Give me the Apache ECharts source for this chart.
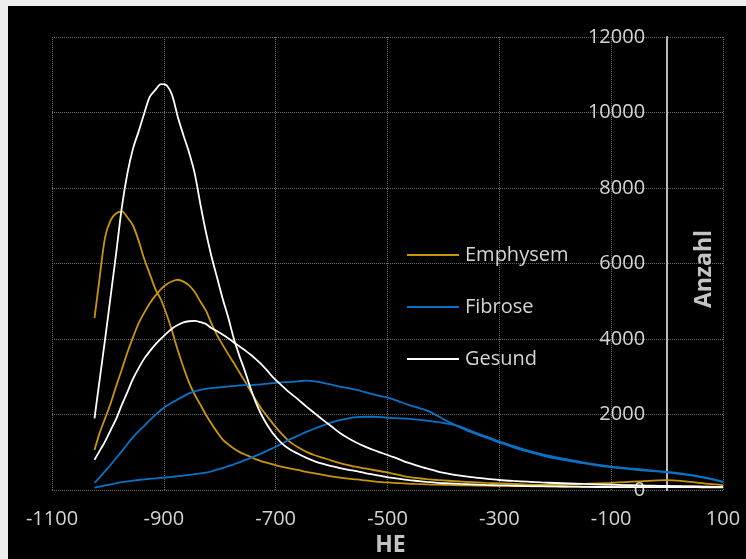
<!DOCTYPE html>
<html>
<head>
<meta charset="utf-8">
<script src="https://cdn.jsdelivr.net/npm/echarts@6/dist/echarts.min.js"></script>
<style>
  html, body { margin: 0; padding: 0; background: #eeeeee; }
  #chart { position: absolute; left: 8px; top: 6px; width: 738px; height: 553px; background: #000000; }
</style>
</head>
<body>
<div id="chart"></div>
<script>
// Hounsfield units (HE) sampled along the histogram
const hu = [
  -1024, -1015, -1005, -995, -985, -975, -965, -955, -945, -935,
  -925, -915, -905, -895, -885, -875, -865, -855, -845, -835,
  -825, -815, -805, -795, -785, -775, -765, -755, -745, -735,
  -725, -715, -705, -690, -675, -660, -645, -630, -615, -600,
  -585, -570, -555, -540, -525, -510, -495, -480, -465, -450,
  -430, -410, -390, -370, -350, -325, -300, -275, -250, -225,
  -200, -175, -150, -125, -100, -75, -50, -25, 0, 25,
  50, 75, 100
];

// Voxel counts (Anzahl) per HU
const emphysemA = [
  4550, 5600, 6700, 7150, 7330, 7380, 7220, 7000, 6600, 6120,
  5720, 5320, 5040, 4650, 4200, 3700, 3250, 2850, 2530, 2270,
  2000, 1760, 1540, 1340, 1210, 1100, 1010, 940, 880, 810,
  760, 720, 680, 620, 575, 530, 480, 440, 400, 360,
  325, 300, 280, 255, 230, 210, 195, 180, 170, 160,
  150, 140, 135, 125, 120, 115, 110, 105, 100, 95,
  95, 90, 90, 90, 90, 95, 95, 100, 100, 100,
  95, 85, 80
];
const emphysemB = [
  1060, 1500, 1900, 2300, 2760, 3200, 3650, 4050, 4420, 4700,
  4950, 5150, 5320, 5450, 5530, 5570, 5520, 5420, 5250, 5000,
  4760, 4420, 4110, 3850, 3600, 3370, 3120, 2880, 2620, 2370,
  2140, 1950, 1760, 1500, 1280, 1130, 1010, 920, 850, 780,
  715, 660, 610, 570, 530, 490, 450, 400, 345, 320,
  290, 265, 245, 225, 210, 190, 175, 160, 145, 135,
  140, 150, 160, 175, 190, 210, 230, 250, 260, 240,
  200, 160, 130
];
const fibroseA = [
  190, 330, 500, 670, 850, 1030, 1220, 1400, 1560, 1700,
  1850, 1990, 2120, 2230, 2320, 2400, 2480, 2560, 2610, 2650,
  2680, 2700, 2710, 2730, 2740, 2760, 2770, 2780, 2780, 2790,
  2800, 2820, 2830, 2850, 2860, 2880, 2900, 2880, 2840, 2790,
  2740, 2700, 2650, 2590, 2530, 2480, 2430, 2350, 2270, 2200,
  2110, 1960, 1800, 1660, 1530, 1390, 1260, 1130, 1020, 920,
  840, 770, 710, 650, 600, 570, 530, 500, 470, 420,
  370, 300, 210
];
const fibroseB = [
  60, 90, 120, 150, 180, 210, 230, 250, 265, 280,
  295, 310, 320, 335, 350, 365, 380, 400, 420, 440,
  460, 490, 540, 580, 630, 680, 730, 790, 850, 910,
  970, 1040, 1110, 1220, 1340, 1440, 1540, 1630, 1710, 1790,
  1850, 1900, 1930, 1940, 1940, 1930, 1910, 1900, 1890, 1870,
  1840, 1800, 1750, 1680, 1560, 1420, 1290, 1160, 1050, 950,
  870, 800, 730, 670, 620, 580, 550, 510, 480, 440,
  380, 310, 220
];
const gesundA = [
  1900, 2900, 4000, 5150, 6300, 7500, 8400, 9050, 9500, 9980,
  10420, 10600, 10750, 10720, 10450, 9880, 9400, 8950, 8400, 7600,
  6850, 6200, 5640, 5080, 4580, 4020, 3560, 3150, 2700, 2300,
  1980, 1720, 1500, 1250, 1080, 960, 850, 760, 690, 630,
  580, 535, 500, 450, 410, 370, 330, 300, 270, 245,
  215, 190, 175, 160, 150, 135, 125, 115, 105, 100,
  95, 90, 85, 80, 80, 75, 75, 75, 75, 75,
  75, 70, 70
];
const gesundB = [
  800, 1030, 1290, 1590, 1890, 2260, 2600, 2950, 3230, 3480,
  3680, 3860, 4010, 4150, 4280, 4370, 4440, 4470, 4480, 4450,
  4400, 4290, 4210, 4120, 4020, 3910, 3810, 3700, 3590, 3460,
  3320, 3160, 2990, 2780, 2580, 2400, 2210, 2030, 1850, 1680,
  1510, 1370, 1250, 1150, 1060, 980, 900, 820, 730, 660,
  570, 490, 430, 380, 340, 300, 265, 240, 220, 200,
  185, 172, 160, 150, 140, 130, 122, 115, 108, 100,
  95, 88, 80
];

const groups = ['Emphysem', 'Fibrose', 'Gesund'];
const colors = { Emphysem: '#c8960a', Fibrose: '#0a72c4', Gesund: '#ffffff' };
const curves = [
  { name: 'Emphysem', values: emphysemA },
  { name: 'Emphysem', values: emphysemB },
  { name: 'Fibrose', values: fibroseA },
  { name: 'Fibrose', values: fibroseB },
  { name: 'Gesund', values: gesundA },
  { name: 'Gesund', values: gesundB }
];

const font = '"Open Sans", "Noto Sans", sans-serif';
const gridLine = { show: true, lineStyle: { color: '#6a6a6a', type: 'dotted', width: 1 } };
const plain = v => String(v);

const gridBox = { left: 44, right: 23, top: 31, bottom: 69 };
const plotWidth = 738 - gridBox.left - gridBox.right;
const xMin = -1100, xMax = 100;
// the count axis stands at HU = 0, so shift it in from the left edge of the grid
const yAxisShift = -plotWidth * (0 - xMin) / (xMax - xMin);

const chart = echarts.init(document.getElementById('chart'), null, { renderer: 'canvas' });
chart.setOption({
  backgroundColor: '#000000',
  animation: false,
  grid: Object.assign({ containLabel: false, outerBoundsMode: 'none' }, gridBox),
  legend: {
    data: groups,
    orient: 'vertical',
    left: 399,
    top: 236,
    padding: 0,
    icon: 'rect',
    itemWidth: 52,
    itemHeight: 2,
    itemGap: 26,
    textStyle: { color: '#d4d4d4', fontFamily: font, fontSize: 20, lineHeight: 26, padding: [0, 0, 0, 1] }
  },
  xAxis: {
    type: 'value',
    min: xMin,
    max: xMax,
    interval: 200,
    axisLine: { show: false },
    axisTick: { show: false },
    splitLine: gridLine,
    axisLabel: { color: '#d4d4d4', fontFamily: font, fontSize: 20, margin: 19, formatter: plain },
    name: 'HE',
    nameLocation: 'middle',
    nameGap: 35,
    nameTextStyle: { color: '#c4c4c4', fontFamily: font, fontSize: 23, fontWeight: 'bold', padding: [0, 0, 0, 6] }
  },
  yAxis: {
    type: 'value',
    min: 0,
    max: 12000,
    interval: 2000,
    position: 'left',
    offset: yAxisShift,
    axisLine: { show: true, onZero: false, lineStyle: { color: '#b8b8b8', width: 2 } },
    axisTick: { show: false },
    splitLine: gridLine,
    axisLabel: { color: '#d4d4d4', fontFamily: font, fontSize: 20, margin: 22, formatter: plain },
    name: 'Anzahl',
    nameLocation: 'middle',
    nameGap: -37,
    nameTextStyle: {
      color: '#c4c4c4', fontFamily: font, fontSize: 23, fontWeight: 'bold',
      verticalAlign: 'middle', padding: [0, 11, 0, 0]
    }
  },
  series: curves.map(c => ({
    name: c.name,
    type: 'line',
    data: hu.map((h, i) => [h, c.values[i]]),
    symbol: 'none',
    smooth: 0.3,
    color: colors[c.name],
    lineStyle: { color: colors[c.name], width: 1.8 }
  }))
});
</script>
</body>
</html>
